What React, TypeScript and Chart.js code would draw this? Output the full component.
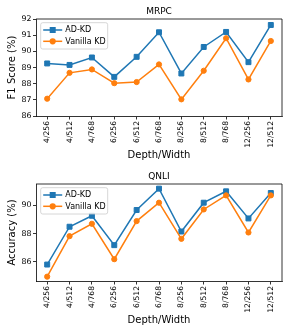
import React, { useEffect, useRef } from "react";
import { Chart, registerables } from "chart.js";

Chart.register(...registerables);

const categories = ["4/256", "4/512", "4/768", "6/256", "6/512", "6/768", "8/256", "8/512", "8/768", "12/256", "12/512"];

const mrpcAdkd = [89.25, 89.16, 89.62, 88.42, 89.66, 91.18, 88.63, 90.27, 91.2, 89.33, 91.63];
const mrpcVanilla = [87.07, 88.67, 88.88, 88.03, 88.1, 89.19, 87.03, 88.8, 90.81, 88.26, 90.64];

const qnliAdkd = [85.79, 88.48, 89.26, 87.17, 89.67, 91.19, 88.14, 90.19, 91.0, 89.07, 90.88];
const qnliVanilla = [84.93, 87.81, 88.69, 86.17, 88.88, 90.19, 87.62, 89.71, 90.71, 88.07, 90.71];

const mrpcTicks = [86, 87, 88, 89, 90, 91, 92];
const qnliTicks = [86, 88, 90];

const BLUE = "#1f77b4";
const ORANGE = "#ff7f0e";
const FONT = "'DejaVu Sans', sans-serif";

const seriesNames = ["AD-KD", "Vanilla KD"];

type Cfg = {
  title: string;
  yTitle: string;
  a: number[];
  b: number[];
  yMin: number;
  yMax: number;
  yTicks: number[];
};

function makeChart(canvas: HTMLCanvasElement, cfg: Cfg) {
  const framePlugin = {
    id: "frame",
    afterDatasetsDraw(chart: any) {
      const { ctx, chartArea } = chart;
      const { left, right, top, bottom } = chartArea;
      ctx.save();
      ctx.strokeStyle = "#000";
      ctx.lineWidth = 0.8;
      ctx.beginPath();
      ctx.moveTo(left, top);
      ctx.lineTo(right, top);
      ctx.lineTo(right, bottom);
      ctx.stroke();

      // title
      ctx.fillStyle = "#000";
      ctx.font = `9px ${FONT}`;
      ctx.textAlign = "center";
      ctx.textBaseline = "middle";
      ctx.fillText(cfg.title, (left + right) / 2, 12);

      // legend
      const bx = left + 4.7;
      const by = top + 3.7;
      const bw = 67;
      const bh = 26.3;
      ctx.beginPath();
      const r = 2;
      ctx.moveTo(bx + r, by);
      ctx.lineTo(bx + bw - r, by);
      ctx.arcTo(bx + bw, by, bx + bw, by + r, r);
      ctx.lineTo(bx + bw, by + bh - r);
      ctx.arcTo(bx + bw, by + bh, bx + bw - r, by + bh, r);
      ctx.lineTo(bx + r, by + bh);
      ctx.arcTo(bx, by + bh, bx, by + bh - r, r);
      ctx.lineTo(bx, by + r);
      ctx.arcTo(bx, by, bx + r, by, r);
      ctx.closePath();
      ctx.fillStyle = "rgba(255,255,255,0.8)";
      ctx.fill();
      ctx.strokeStyle = "#cccccc";
      ctx.lineWidth = 0.8;
      ctx.stroke();

      const rows = [by + 7.3, by + 18.6];
      const colors = [BLUE, ORANGE];
      rows.forEach((ry, i) => {
        ctx.strokeStyle = colors[i];
        ctx.lineWidth = 1.5;
        ctx.beginPath();
        ctx.moveTo(bx + 2.5, ry);
        ctx.lineTo(bx + 21.5, ry);
        ctx.stroke();
        ctx.fillStyle = colors[i];
        const cx = bx + 12;
        if (i === 0) {
          ctx.fillRect(cx - 3, ry - 3, 6, 6);
        } else {
          ctx.beginPath();
          ctx.arc(cx, ry, 3.1, 0, Math.PI * 2);
          ctx.fill();
        }
        ctx.fillStyle = "#000";
        ctx.font = `8px ${FONT}`;
        ctx.textAlign = "left";
        ctx.textBaseline = "middle";
        ctx.fillText(seriesNames[i], bx + 24.6, ry + 0.3);
      });
      ctx.restore();
    },
  };

  return new Chart(canvas, {
    type: "line",
    data: {
      datasets: [
        {
          label: seriesNames[0],
          data: cfg.a.map((v, i) => ({ x: i, y: v })),
          borderColor: BLUE,
          backgroundColor: BLUE,
          borderWidth: 1.5,
          pointStyle: "rect",
          pointRadius: 3.5,
          pointBorderWidth: 1,
          pointBorderColor: BLUE,
          pointBackgroundColor: BLUE,
          tension: 0,
          order: 2,
        },
        {
          label: seriesNames[1],
          data: cfg.b.map((v, i) => ({ x: i, y: v })),
          borderColor: ORANGE,
          backgroundColor: ORANGE,
          borderWidth: 1.5,
          pointStyle: "circle",
          pointRadius: 2.6,
          pointBorderWidth: 1,
          pointBorderColor: ORANGE,
          pointBackgroundColor: ORANGE,
          tension: 0,
          order: 1,
        },
      ],
    },
    options: {
      responsive: false,
      animation: false,
      events: [],
      layout: { padding: { top: 19, right: 9, left: 0, bottom: 0 } },
      plugins: {
        legend: { display: false },
        tooltip: { enabled: false },
        title: { display: false },
      },
      scales: {
        x: {
          type: "linear",
          min: -0.5,
          max: 10.5,
          afterBuildTicks: (scale: any) => {
            scale.ticks = categories.map((_, i) => ({ value: i }));
          },
          afterFit: (scale: any) => {
            scale.height = 49;
          },
          ticks: {
            autoSkip: false,
            minRotation: 90,
            maxRotation: 90,
            padding: 1.5,
            color: "#000",
            font: { family: FONT, size: 7.6 },
            callback: (v: any) => categories[Math.round(Number(v))] ?? "",
          },
          grid: {
            display: true,
            drawOnChartArea: false,
            drawTicks: true,
            tickLength: 3.5,
            color: "#000",
            lineWidth: 0.8,
          },
          border: { display: true, color: "#000", width: 0.8 },
          title: {
            display: true,
            text: "Depth/Width",
            color: "#000",
            font: { family: FONT, size: 10 },
            padding: { top: 0, bottom: 3.3 },
          },
        },
        y: {
          type: "linear",
          min: cfg.yMin,
          max: cfg.yMax,
          afterBuildTicks: (scale: any) => {
            scale.ticks = cfg.yTicks.map((v) => ({ value: v }));
          },
          afterFit: (scale: any) => {
            scale.width = 36;
          },
          ticks: {
            padding: 1.5,
            color: "#000",
            font: { family: FONT, size: 7.8 },
            callback: (v: any) => String(v),
          },
          grid: {
            display: true,
            drawOnChartArea: false,
            drawTicks: true,
            tickLength: 3,
            color: "#000",
            lineWidth: 0.8,
          },
          border: { display: true, color: "#000", width: 0.8 },
          title: {
            display: true,
            text: cfg.yTitle,
            color: "#000",
            font: { family: FONT, size: 10 },
            padding: { top: 6, bottom: 0 },
          },
        },
      },
    },
    plugins: [framePlugin],
  } as any);
}

function Panel({ cfg, top }: { cfg: Cfg; top: number }) {
  const ref = useRef<HTMLCanvasElement | null>(null);
  useEffect(() => {
    if (!ref.current) return;
    const chart = makeChart(ref.current, cfg);
    return () => chart.destroy();
  }, []);
  return (
    <canvas
      ref={ref}
      width={291}
      height={165}
      style={{ position: "absolute", left: 0, top, width: 291, height: 165 }}
    />
  );
}

export default function App() {
  return (
    <div style={{ position: "absolute", left: 0, top: 0, width: 291, height: 336, background: "#fff" }}>
      <Panel
        top={0}
        cfg={{ title: "MRPC", yTitle: "F1 Score (%)", a: mrpcAdkd, b: mrpcVanilla, yMin: 86, yMax: 92, yTicks: mrpcTicks }}
      />
      <Panel
        top={165}
        cfg={{ title: "QNLI", yTitle: "Accuracy (%)", a: qnliAdkd, b: qnliVanilla, yMin: 84.62, yMax: 91.52, yTicks: qnliTicks }}
      />
    </div>
  );
}
